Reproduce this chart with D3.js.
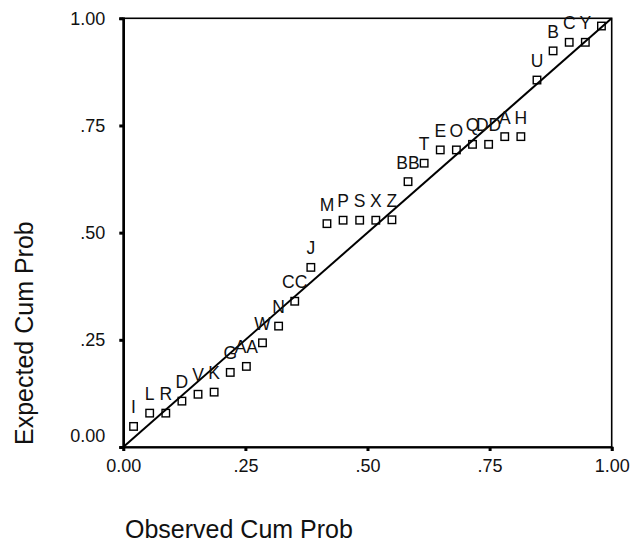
<!DOCTYPE html>
<html>
<head>
<meta charset="utf-8">
<script src="https://cdn.jsdelivr.net/npm/d3@7"></script>
<style>
    body { margin: 0; background: #fff; }
    svg { display: block; font-family: "Liberation Sans", Arial, sans-serif; }
</style>
</head>
<body>
<script>
// case labels in order of observed cum prob
const caseLabels = ["I", "L", "R", "D", "V", "K", "G", "AA", "W", "N",
    "CC", "J", "M", "P", "S", "X", "Z", "BB", "T", "E",
    "O", "Q", "DD", "A", "H", "U", "B", "C", "Y", "F"]

const observedCum = [0.021, 0.054, 0.087, 0.120, 0.153, 0.186, 0.219, 0.252, 0.285, 0.318,
    0.351, 0.384, 0.417, 0.450, 0.484, 0.517, 0.550, 0.583, 0.616, 0.649,
    0.682, 0.715, 0.748, 0.781, 0.814, 0.847, 0.880, 0.913, 0.946, 0.979]

const expectedCum = [0.048, 0.079, 0.079, 0.107, 0.123, 0.128, 0.174, 0.188, 0.243, 0.282,
    0.340, 0.419, 0.521, 0.529, 0.529, 0.529, 0.530, 0.619, 0.662, 0.693,
    0.693, 0.706, 0.706, 0.724, 0.724, 0.856, 0.924, 0.944, 0.944, 0.982]

const tickValues = [0, 0.25, 0.5, 0.75, 1]
const tickLabels = ["0.00", ".25", ".50", ".75", "1.00"]

const width = 634
const height = 543
const ivp = {x: 123.3, y: 18.3, w: 611.7, h: 447}

const svg = d3.select("body")
    .append("svg")
    .attr("width", width)
    .attr("height", height)

const xScale = d3.scaleLinear().domain([0, 1]).range([ivp.x, ivp.w])
const yScale = d3.scaleLinear().domain([0, 1]).range([ivp.h, ivp.y])

const points = observedCum.map((x, i) => ({x: x, y: expectedCum[i], label: caseLabels[i]}))

// frame
svg.append("rect")
    .attr("x", ivp.x)
    .attr("y", ivp.y)
    .attr("width", ivp.w - ivp.x)
    .attr("height", ivp.h - ivp.y)
    .attr("fill", "none")
    .attr("stroke", "#000")
    .attr("stroke-width", 1.6)

// axes
const xAxis = d3.axisBottom(xScale)
    .tickValues(tickValues)
    .tickSize(4)
    .tickPadding(8)
    .tickFormat((d, i) => tickLabels[i])

const yAxis = d3.axisLeft(yScale)
    .tickValues(tickValues)
    .tickSize(4)
    .tickPadding(14)
    .tickFormat((d, i) => tickLabels[i])

const gx = svg.append("g")
    .attr("transform", `translate(0,${ivp.h})`)
    .call(xAxis)
gx.select(".domain").attr("stroke-width", 2.2)
gx.selectAll(".tick line").attr("stroke-width", 3)
gx.selectAll(".tick text")
    .attr("font-size", 18)
    .attr("font-family", "Liberation Sans, Arial, sans-serif")
    .attr("fill", "#111")

const gy = svg.append("g")
    .attr("transform", `translate(${ivp.x},0)`)
    .call(yAxis)
gy.select(".domain").attr("stroke-width", 2.4)
gy.selectAll(".tick line").attr("stroke-width", 3)
gy.selectAll(".tick text")
    .attr("font-size", 18)
    .attr("font-family", "Liberation Sans, Arial, sans-serif")
    .attr("fill", "#111")
    .attr("dy", (d) => d === 0 ? "-0.3em" : "0.32em")

// reference diagonal
svg.append("line")
    .attr("x1", xScale(0))
    .attr("y1", yScale(0))
    .attr("x2", xScale(1))
    .attr("y2", yScale(1))
    .attr("stroke", "#000")
    .attr("stroke-width", 2)

// markers
const sz = 7.5
svg.append("g")
    .selectAll("rect")
    .data(points)
    .enter()
    .append("rect")
    .attr("x", d => xScale(d.x) - sz / 2)
    .attr("y", d => yScale(d.y) - sz / 2)
    .attr("width", sz)
    .attr("height", sz)
    .attr("fill", "none")
    .attr("stroke", "#000")
    .attr("stroke-width", 1.4)

// case labels; a label that would sit above the frame is not drawn
const labelOffset = 13
svg.append("clipPath")
    .attr("id", "plotclip")
    .append("rect")
    .attr("x", ivp.x)
    .attr("y", ivp.y - 3)
    .attr("width", ivp.w - ivp.x)
    .attr("height", ivp.h - ivp.y + 3)

svg.append("g")
    .attr("clip-path", "url(#plotclip)")
    .selectAll("text")
    .data(points.filter(d => yScale(d.y) - labelOffset > ivp.y))
    .enter()
    .append("text")
    .attr("x", d => xScale(d.x))
    .attr("y", d => yScale(d.y) - labelOffset)
    .attr("text-anchor", "middle")
    .attr("font-size", 17.5)
    .attr("fill", "#111")
    .text(d => d.label)

// axis titles
svg.append("text")
    .attr("x", 125)
    .attr("y", 538)
    .attr("font-size", 25)
    .attr("fill", "#111")
    .text("Observed Cum Prob")

svg.append("text")
    .attr("transform", "translate(33,445) rotate(-90)")
    .attr("font-size", 25)
    .attr("fill", "#111")
    .text("Expected Cum Prob")
</script>
</body>
</html>
